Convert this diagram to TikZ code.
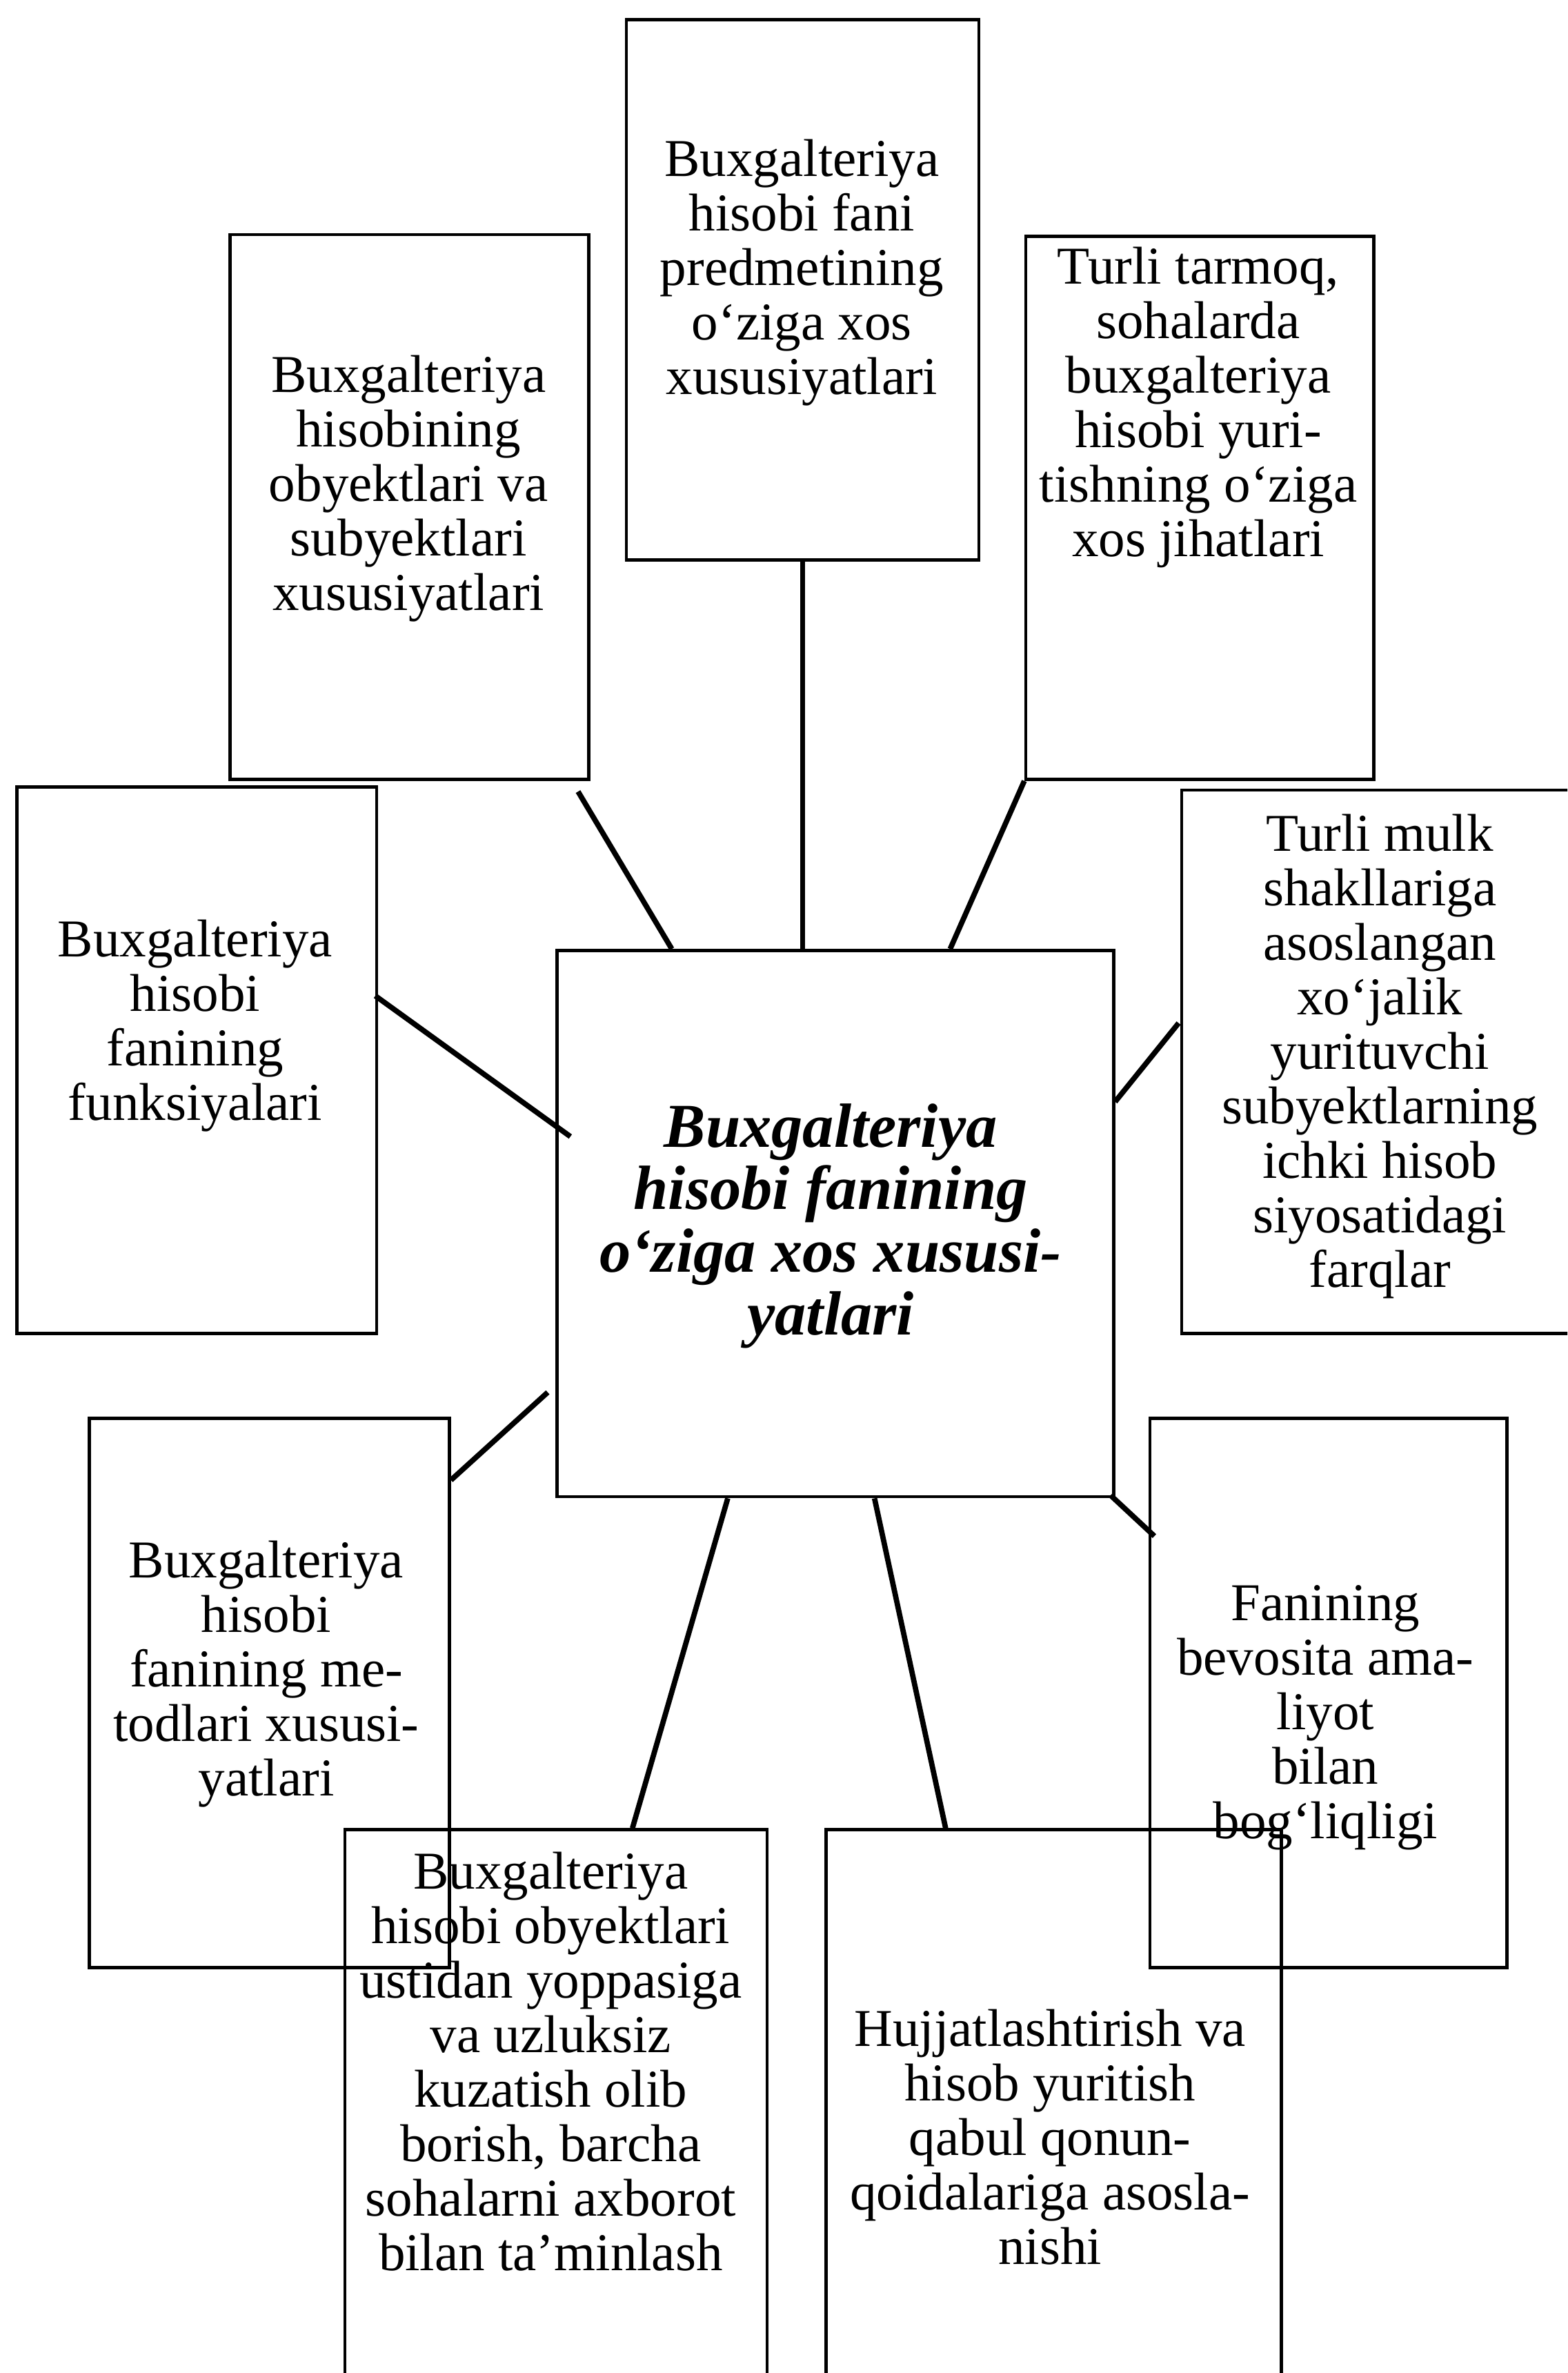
\documentclass[tikz,border=0pt]{standalone}
\usepackage{fontspec}
\setmainfont{Liberation Serif}
\usetikzlibrary{calc}

\begin{document}
\begin{tikzpicture}[
  x=0.02cm, y=-0.02cm,
  every node/.style={align=center},
  box/.style={draw, line width=1.2pt, anchor=north west, inner sep=0pt},
  txt/.style={font=\fontsize{20}{20.5}\selectfont, inner sep=0pt},
  link/.style={line width=2pt}
]
\useasboundingbox (0,0) rectangle (1036,1568);
\clip (0,0) rectangle (1036,1568);
% boxes
\node[box, minimum width=4.66cm, minimum height=7.14cm] (pred) at (413,12) {};
\node[box, minimum width=4.74cm, minimum height=7.20cm] (obj) at (151,154) {};
\node[box, minimum width=4.60cm, minimum height=7.18cm] (tarm) at (677,155) {};
\node[box, minimum width=4.76cm, minimum height=7.22cm] (func) at (10,519) {};
\node[box, minimum width=5.20cm, minimum height=7.18cm] (mulk) at (780,521) {};
\node[box, minimum width=7.36cm, minimum height=7.22cm] (main) at (367,627) {};
\node[box, minimum width=4.76cm, minimum height=7.26cm] (metod) at (58,936) {};
\node[box, minimum width=4.72cm, minimum height=7.26cm] (amal) at (759,936) {};
\node[box, minimum width=5.58cm, minimum height=7.64cm] (kuzat) at (227,1208) {};
\node[box, minimum width=6.02cm, minimum height=7.64cm] (hujj) at (545,1208) {};
% texts
\node[txt] (pred-t) at (530,180) {Buxgalteriya\\hisobi fani\\predmetining\\o‘ziga xos\\xususiyatlari};
\node[txt] (obj-t) at (270,323) {Buxgalteriya\\hisobining\\obyektlari va\\subyektlari\\xususiyatlari};
\node[txt] (tarm-t) at (792,269) {Turli tarmoq,\\sohalarda\\buxgalteriya\\hisobi yuri-\\tishning o‘ziga\\xos jihatlari};
\node[txt] (func-t) at (129,678) {Buxgalteriya\\hisobi\\fanining\\funksiyalari};
\node[txt] (mulk-t) at (912,698) {Turli mulk\\shakllariga\\asoslangan\\xo‘jalik\\yurituvchi\\subyektlarning\\ichki hisob\\siyosatidagi\\farqlar};
\node[txt, font=\bfseries\itshape\fontsize{23.5}{23.5}\selectfont] (main-t) at (549,810) {Buxgalteriya\\hisobi fanining\\o‘ziga xos xususi-\\yatlari};
\node[txt] (metod-t) at (176,1106) {Buxgalteriya\\hisobi\\fanining me-\\todlari xususi-\\yatlari};
\node[txt] (amal-t) at (876,1135) {Fanining\\bevosita ama-\\liyot\\bilan\\bog‘liqligi};
\node[txt] (kuzat-t) at (364,1362) {Buxgalteriya\\hisobi obyektlari\\ustidan yoppasiga\\va uzluksiz\\kuzatish olib\\borish, barcha\\sohalarni axborot\\bilan ta’minlash};
\node[txt] (hujj-t) at (694,1412) {Hujjatlashtirish va\\hisob yuritish\\qabul qonun-\\qoidalariga asosla-\\nishi};
% links
\draw[link] (pred.south) -- (pred.south |- main.north);
\draw[link] ($(obj.south east)+(-8,7)$) -- ($(main.north west)+(77,0)$);
\draw[link] (tarm.south west) -- ($(main.north west)+(261,0)$);
\draw[link] ($(func.north east)+(-2,139)$) -- ($(main.north west)+(10,124)$);
\draw[link] ($(mulk.north west)+(-1,155)$) -- ($(main.north east)+(0,101)$);
\draw[link] ($(main.north west)+(-5,293)$) -- ($(metod.north east)+(0,42)$);
\draw[link] ($(main.south east)+(-3,-2)$) -- ($(amal.north west)+(4,79)$);
\draw[link] ($(main.south west)+(114,0)$) -- ($(kuzat.north west)+(191,0)$);
\draw[link] ($(main.south west)+(211,0)$) -- ($(hujj.north west)+(80,0)$);
\end{tikzpicture}
\end{document}
